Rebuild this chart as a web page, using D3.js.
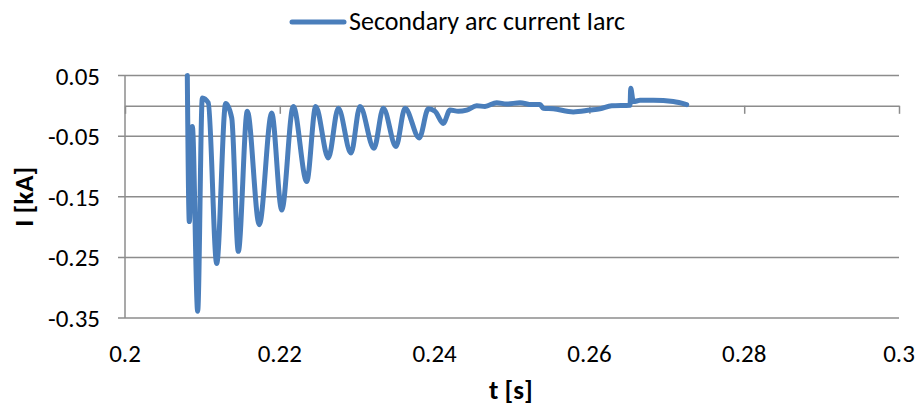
<!DOCTYPE html>
<html>
<head>
<meta charset="utf-8">
<script src="https://cdn.jsdelivr.net/npm/d3@7"></script>
<style>
    body { margin: 0; background: #fff; }
    svg text { font-family: Carlito, Calibri, Lato, sans-serif; fill: #000; }
</style>
</head>
<body>
<svg id="chart" width="917" height="405"></svg>
<script>
// time [s] and current [kA]
var timeValues = [0.20805, 0.20831, 0.20870, 0.20939, 0.20999, 0.21076, 0.21185, 0.21301, 0.21379, 0.21464,
    0.21580, 0.21735, 0.21895, 0.22025, 0.22174, 0.22348, 0.22464, 0.22627, 0.22756, 0.22920,
    0.23036, 0.23217, 0.23337, 0.23501, 0.23618, 0.23802, 0.23919, 0.24005, 0.24112, 0.24199,
    0.24306, 0.24415, 0.24544, 0.24651, 0.24802, 0.24932, 0.25103, 0.25255, 0.25362, 0.25404,
    0.25533, 0.25792, 0.26008, 0.26137, 0.26288, 0.26525, 0.26534, 0.26567, 0.26654, 0.26826,
    0.27084, 0.27257];
var currentValues = [0.05, -0.191, -0.034, -0.339, 0.013, 0.005, -0.26, 0.004, -0.02, -0.24,
    -0.009, -0.196, -0.012, -0.172, -0.001, -0.125, -0.001, -0.086, -0.004, -0.078,
    -0.001, -0.07, -0.004, -0.067, -0.004, -0.053, -0.005, -0.009, -0.029, -0.007,
    -0.009, -0.007, 0.0, -0.001, 0.005, 0.003, 0.005, 0.002, 0.002, -0.004,
    -0.005, -0.010, -0.007, -0.005, 0.0, 0.001, 0.029, 0.007, 0.009, 0.009,
    0.007, 0.002];
var xTicks = [0.2, 0.22, 0.24, 0.26, 0.28, 0.3];
var yTicks = [-0.35, -0.25, -0.15, -0.05, 0.05];
var seriesName = "Secondary arc current Iarc";

var lineColor = "#4a7ebb";
var gridColor = "#8c8c8c";

var data = timeValues.map(function (t, i) {
    return {t: t, value: currentValues[i]};
});

var svg = d3.select("#chart");

var xScale = d3.scaleLinear().domain([0.2, 0.3]).range([125, 899]);
var yScale = d3.scaleLinear().domain([-0.35, 0.05]).range([318, 75.5]);

// Horizontal gridlines
svg.append("g")
    .attr("class", "grid")
    .selectAll("line")
    .data(yTicks)
    .enter()
    .append("line")
    .attr("x1", 118)
    .attr("x2", 899)
    .attr("y1", function (d) { return yScale(d); })
    .attr("y2", function (d) { return yScale(d); })
    .attr("stroke", gridColor)
    .attr("stroke-width", 1.5);

// Y axis line
svg.append("line")
    .attr("x1", xScale(0.2)).attr("x2", xScale(0.2))
    .attr("y1", yScale(0.05)).attr("y2", yScale(-0.35))
    .attr("stroke", gridColor)
    .attr("stroke-width", 1.5);

// X axis crossing at zero, ticks going down
var xAxis = d3.axisBottom(xScale)
    .tickValues(xTicks)
    .tickSize(8)
    .tickSizeOuter(0)
    .tickFormat("");

var xAxisG = svg.append("g")
    .attr("class", "x axis")
    .attr("transform", "translate(0," + yScale(0) + ")")
    .call(xAxis);
xAxisG.select(".domain").attr("stroke", gridColor).attr("stroke-width", 1.5);
xAxisG.selectAll(".tick line").attr("stroke", gridColor).attr("stroke-width", 1.5);

// Tick labels
svg.append("g")
    .selectAll("text")
    .data(yTicks)
    .enter()
    .append("text")
    .attr("x", 100)
    .attr("y", function (d) { return yScale(d); })
    .attr("dy", "0.36em")
    .style("text-anchor", "end")
    .style("font-size", "25px")
    .text(function (d) { return d3.format(".2f")(d).replace("−", "-"); });

svg.append("g")
    .selectAll("text")
    .data(xTicks)
    .enter()
    .append("text")
    .attr("x", function (d) { return xScale(d); })
    .attr("y", 362)
    .style("text-anchor", "middle")
    .style("font-size", "25px")
    .text(function (d) { return String(+d.toFixed(2)); });

// Axis titles
svg.append("text")
    .attr("transform", "translate(33," + (yScale(-0.15)) + ") rotate(-90)")
    .style("text-anchor", "middle")
    .style("font-size", "27px")
    .style("font-weight", "bold")
    .text("I [kA]");

svg.append("text")
    .attr("x", 511)
    .attr("y", 399)
    .style("text-anchor", "middle")
    .style("font-size", "27px")
    .style("font-weight", "bold")
    .text("t [s]");

// Series line
svg.append("path")
    .datum(data)
    .attr("class", "series")
    .attr("d", d3.line()
        .curve(d3.curveMonotoneX)
        .x(function (d) { return xScale(d.t); })
        .y(function (d) { return yScale(d.value); }))
    .attr("fill", "none")
    .attr("stroke", lineColor)
    .attr("stroke-width", 5)
    .attr("stroke-linejoin", "round")
    .attr("stroke-linecap", "round");

// Legend
var legend = svg.append("g").attr("class", "legend");
legend.append("line")
    .attr("x1", 292).attr("x2", 344)
    .attr("y1", 22).attr("y2", 22)
    .attr("stroke", lineColor)
    .attr("stroke-width", 5)
    .attr("stroke-linecap", "round");
legend.append("text")
    .attr("x", 349)
    .attr("y", 30)
    .style("font-size", "26px")
    .text(seriesName);
</script>
</body>
</html>
